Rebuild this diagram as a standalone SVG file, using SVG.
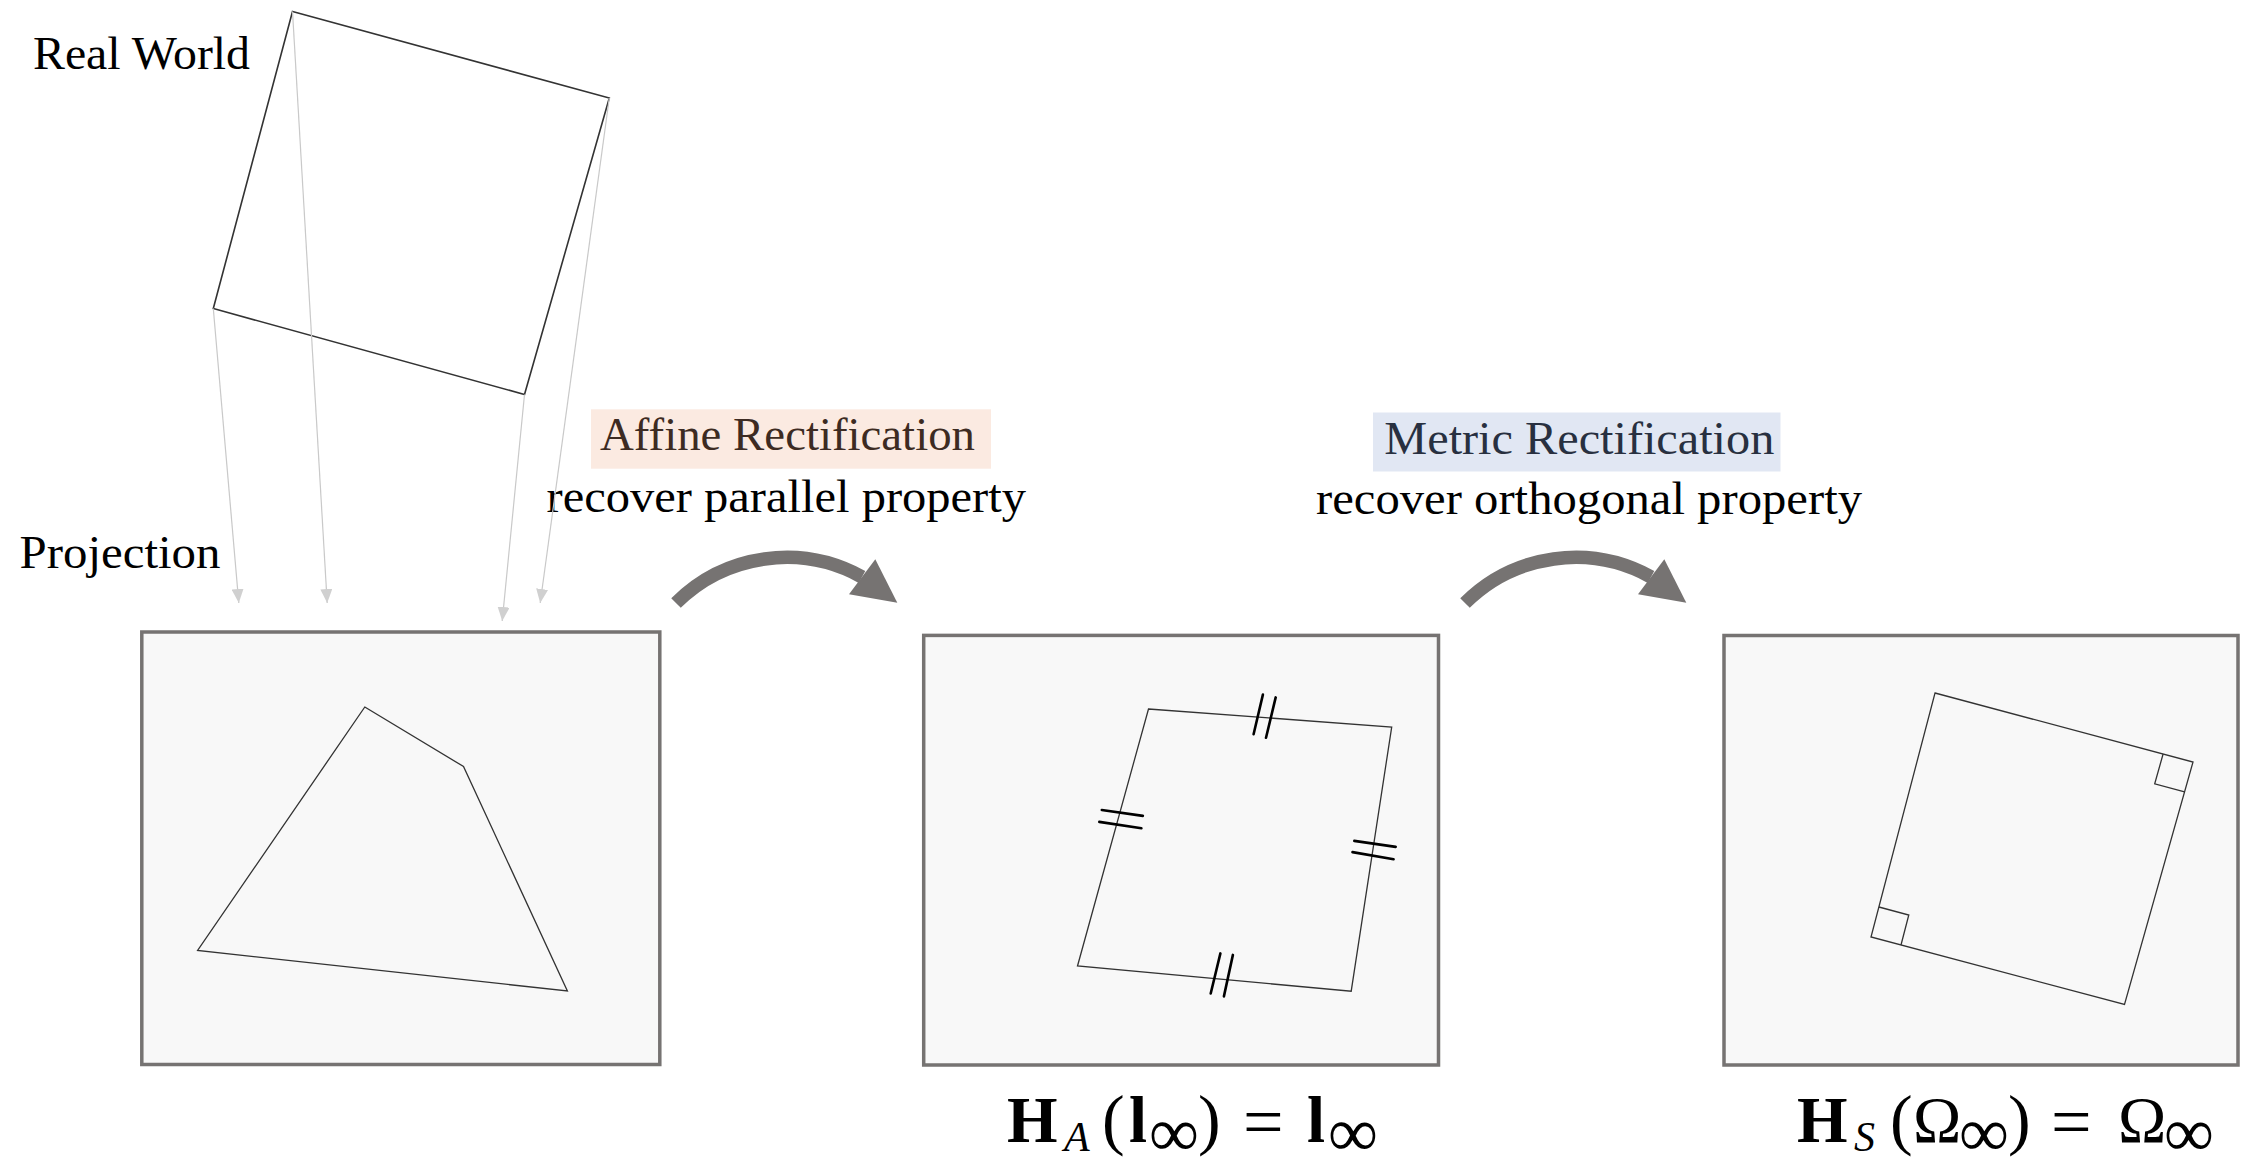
<svg xmlns="http://www.w3.org/2000/svg" width="2259" height="1171" viewBox="0 0 2259 1171">
<style>
  text { font-family: "Liberation Serif", "Times New Roman", serif; fill: #000; }
  .lbl { font-size: 47px; }
  .frame { fill: #f8f8f8; stroke: #767372; stroke-width: 3.5; }
  .shape { fill: none; stroke: #333; stroke-width: 1.3; stroke-linejoin: miter; }
  .world { fill: none; stroke: #333; stroke-width: 1.6; }
  .proj { stroke: #c9c9c9; stroke-width: 1.2; fill: none; marker-end: url(#tri); }
  .tick { stroke: #000; stroke-width: 2.6; stroke-linecap: round; }
  .bigarrow { fill: none; stroke: #767372; stroke-width: 13.5; }
  .bighead { fill: #767372; }
  .math { font-size: 65px; }
  .bf { font-weight: bold; }
  .sub { font-size: 42px; font-style: italic; }
  .inf { font-size: 70px; }
  .par { font-size: 68px; }
</style>
<defs>
  <marker id="tri" viewBox="0 0 14 12" refX="14" refY="6" markerWidth="14" markerHeight="12" markerUnits="userSpaceOnUse" orient="auto">
    <path d="M0,0 L14,6 L0,12 Z" fill="#d0d0d0"/>
  </marker>
</defs>

<rect x="0" y="0" width="2259" height="1171" fill="#fff"/>

<g id="real-world">
  <polygon class="world" points="292.5,11.5 609.3,98 524.5,394.5 213.3,308.5"/>
  <text class="lbl" x="33" y="69" textLength="217" lengthAdjust="spacingAndGlyphs">Real World</text>
</g>

<g id="projection-label">
  <text class="lbl" x="19.5" y="568" textLength="201" lengthAdjust="spacingAndGlyphs">Projection</text>
</g>

<g id="box-projection">
  <rect class="frame" x="141.8" y="632" width="518" height="432.5"/>
  <polygon class="shape" points="364.8,707 463.5,766.5 567.4,991 197.6,950.5"/>
</g>

<g id="box-affine">
  <rect class="frame" x="923.7" y="635.4" width="514.8" height="429.6"/>
  <polygon class="shape" points="1148.5,709 1391.7,727 1351.2,991.2 1077.5,966"/>
  <line class="tick" x1="1253.6" y1="734.3" x2="1262.9" y2="694.6"/>
  <line class="tick" x1="1266" y1="737.8" x2="1275.7" y2="697.4"/>
  <line class="tick" x1="1101.8" y1="810" x2="1142.9" y2="815.9"/>
  <line class="tick" x1="1099.3" y1="821.9" x2="1141.4" y2="828.2"/>
  <line class="tick" x1="1354.3" y1="840.9" x2="1395.7" y2="846.9"/>
  <line class="tick" x1="1352.5" y1="852.1" x2="1393.6" y2="859.2"/>
  <line class="tick" x1="1220.4" y1="953.4" x2="1210.7" y2="993.5"/>
  <line class="tick" x1="1232.9" y1="954.9" x2="1223.9" y2="996.4"/>
  <text class="math" y="1142">
    <tspan class="bf" x="1007">H</tspan><tspan class="sub" x="1064" y="1151">A</tspan><tspan class="par" x="1102" y="1142">(</tspan><tspan class="bf" x="1129">l</tspan><tspan class="inf" x="1149" y="1156">∞</tspan><tspan class="par" x="1198" y="1142">)</tspan><tspan x="1243" y="1146" font-size="72">=</tspan><tspan class="bf" x="1307" y="1142">l</tspan><tspan class="inf" x="1328" y="1156">∞</tspan>
  </text>
</g>

<g id="box-metric">
  <rect class="frame" x="1724" y="635.5" width="514" height="429.5"/>
  <polygon class="shape" points="1935,693 2193,762 2124.5,1004.5 1871,937"/>
  <polyline class="shape" points="2163.1,754 2154.7,783.8 2184.6,791.8"/>
  <polyline class="shape" points="1878.9,907 1908.8,915 1901,945"/>
  <text class="math" y="1142">
    <tspan class="bf" x="1797">H</tspan><tspan class="sub" x="1854" y="1151">S</tspan><tspan class="par" x="1890" y="1142">(</tspan><tspan x="1913">Ω</tspan><tspan class="inf" x="1959" y="1156">∞</tspan><tspan class="par" x="2008" y="1142">)</tspan><tspan x="2051" y="1146" font-size="72">=</tspan><tspan x="2118" y="1142">Ω</tspan><tspan class="inf" x="2164" y="1156">∞</tspan>
  </text>
</g>

<g id="label-affine">
  <rect x="591" y="409.3" width="400" height="59.4" fill="#fbeae1"/>
  <text class="lbl" x="600" y="449.5" textLength="375" lengthAdjust="spacingAndGlyphs" style="fill:#3d2b22">Affine Rectification</text>
  <text class="lbl" x="546.5" y="512" textLength="479.5" lengthAdjust="spacingAndGlyphs">recover parallel property</text>
</g>

<g id="label-metric">
  <rect x="1373" y="412.5" width="407.5" height="59" fill="#e1e7f3"/>
  <text class="lbl" x="1384.3" y="453.5" textLength="390" lengthAdjust="spacingAndGlyphs" style="fill:#283040">Metric Rectification</text>
  <text class="lbl" x="1316" y="514" textLength="546" lengthAdjust="spacingAndGlyphs">recover orthogonal property</text>
</g>

<g id="connectors">
  <line class="proj" x1="213.3" y1="308.5" x2="238.8" y2="603"/>
  <line class="proj" x1="292.5" y1="11.5" x2="327.2" y2="603"/>
  <line class="proj" x1="524.5" y1="394.5" x2="502.2" y2="621"/>
  <line class="proj" x1="609.3" y1="98" x2="540.2" y2="603"/>
  <path class="bigarrow" d="M676,603 A156.4,156.4 0 0 1 862,577"/>
  <polygon class="bighead" points="875.3,559.3 897.3,602.7 849,594.3"/>
  <path class="bigarrow" d="M1465,603 A156.4,156.4 0 0 1 1651,577"/>
  <polygon class="bighead" points="1664.3,559.3 1686.3,602.7 1638,594.3"/>
</g>
</svg>
